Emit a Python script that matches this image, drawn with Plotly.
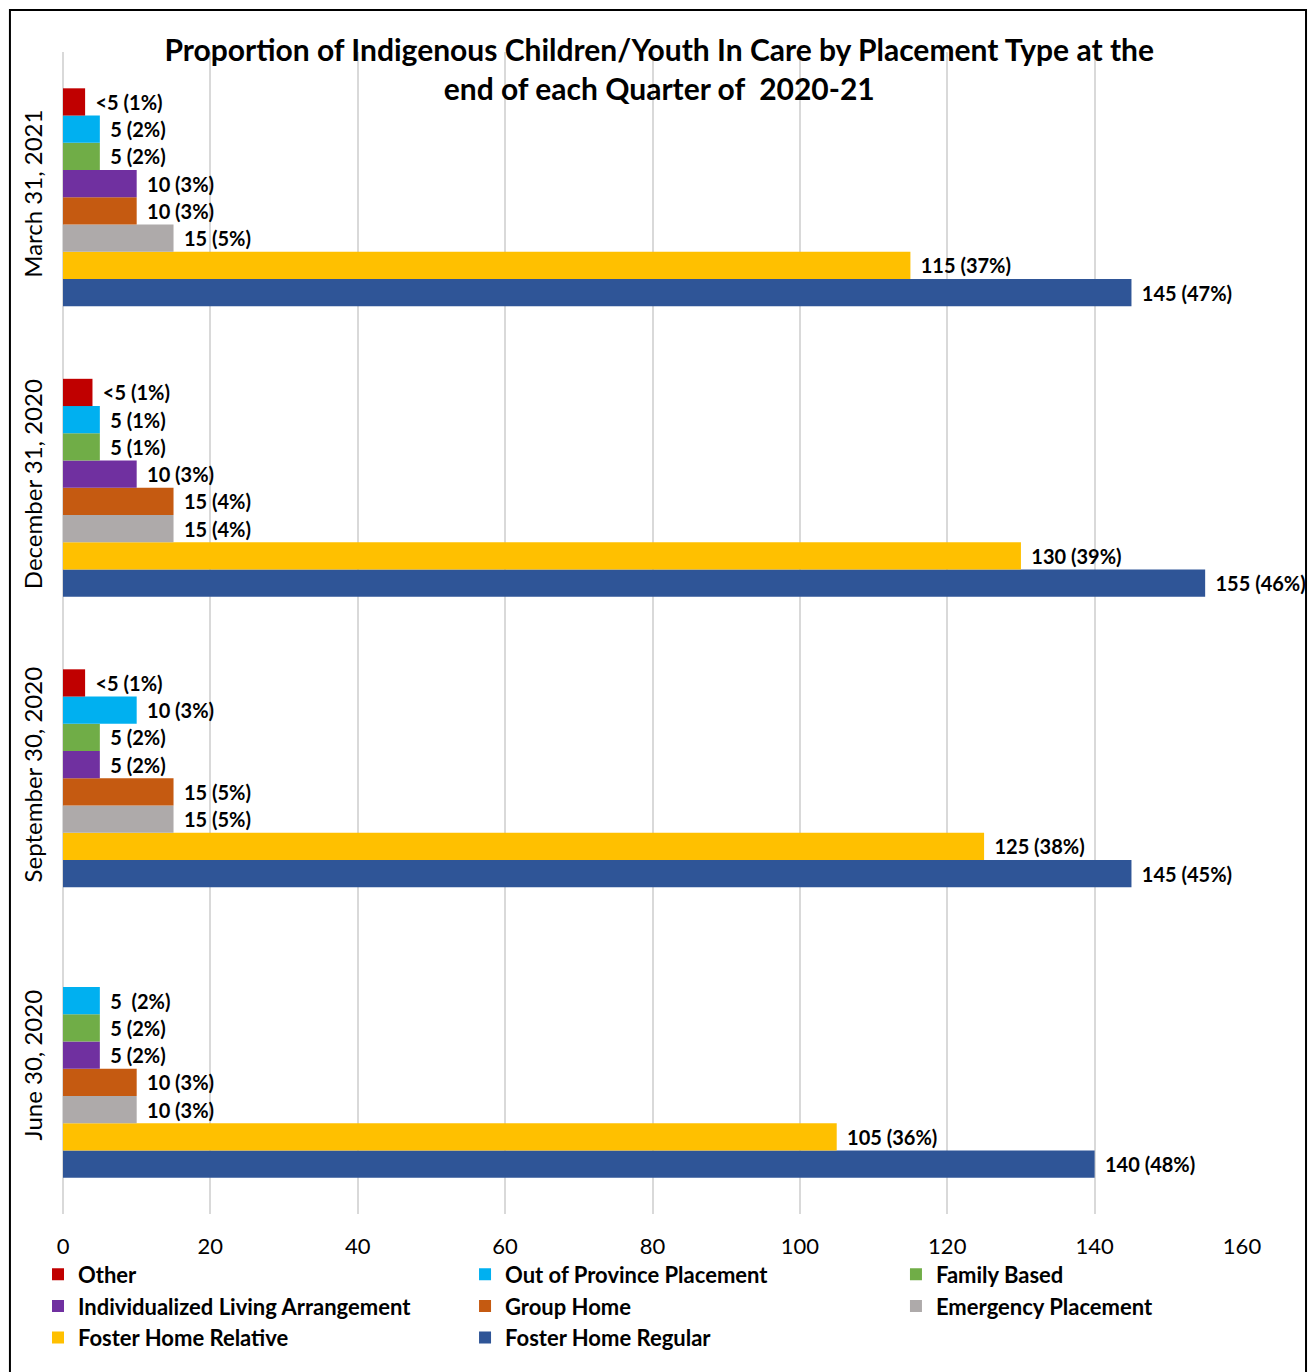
import plotly.graph_objects as go

# Quarter-end dates (bottom to top on the chart)
categories = ["June 30, 2020", "September 30, 2020", "December 31, 2020", "March 31, 2021"]

# Placement counts per quarter and their printed labels
other = [None, 3, 4, 3]
other_labels = ["", "<5 (1%)", "<5 (1%)", "<5 (1%)"]

out_of_province = [5, 10, 5, 5]
out_of_province_labels = ["5\u00a0\u00a0(2%)", "10 (3%)", "5 (1%)", "5 (2%)"]

family_based = [5, 5, 5, 5]
family_based_labels = ["5 (2%)", "5 (2%)", "5 (1%)", "5 (2%)"]

individualized = [5, 5, 10, 10]
individualized_labels = ["5 (2%)", "5 (2%)", "10 (3%)", "10 (3%)"]

group_home = [10, 15, 15, 10]
group_home_labels = ["10 (3%)", "15 (5%)", "15 (4%)", "10 (3%)"]

emergency = [10, 15, 15, 15]
emergency_labels = ["10 (3%)", "15 (5%)", "15 (4%)", "15 (5%)"]

foster_relative = [105, 125, 130, 115]
foster_relative_labels = ["105 (36%)", "125 (38%)", "130 (39%)", "115 (37%)"]

foster_regular = [140, 145, 155, 145]
foster_regular_labels = ["140 (48%)", "145 (45%)", "155 (46%)", "145 (47%)"]

x_ticks = [0, 20, 40, 60, 80, 100, 120, 140, 160]

# Drawn bottom-up within each quarter, so Foster Home Regular comes first.
# The last field picks which legend column the series is listed in.
series = [
    ("Foster Home Regular", foster_regular, foster_regular_labels, "#2F5597", "legend2"),
    ("Foster Home Relative", foster_relative, foster_relative_labels, "#FFC000", "legend"),
    ("Emergency Placement", emergency, emergency_labels, "#AEAAAA", "legend3"),
    ("Group Home", group_home, group_home_labels, "#C55A11", "legend2"),
    ("Individualized Living Arrangement", individualized, individualized_labels, "#7030A0", "legend"),
    ("Family Based", family_based, family_based_labels, "#70AD47", "legend3"),
    ("Out of Province Placement", out_of_province, out_of_province_labels, "#00B0F0", "legend2"),
    ("Other", other, other_labels, "#C00000", "legend"),
]

FONT = "Lato, 'Open Sans', sans-serif"

fig = go.Figure()
for name, vals, labels, color, legend_id in series:
    fig.add_trace(go.Bar(
        name=name,
        legend=legend_id,
        y=categories,
        x=vals,
        orientation="h",
        marker=dict(color=color, line=dict(width=0)),
        text=labels,
        texttemplate="\u00a0\u2009%{text}",
        textposition="outside",
        textfont=dict(family=FONT, size=20, color="black", weight="bold"),
        cliponaxis=False,
        constraintext="none",
        hoverinfo="x+name",
    ))


def legend_column(x):
    # Each column is its own vertical legend below the plot area
    return dict(
        orientation="v",
        traceorder="reversed",
        x=x,
        xanchor="left",
        y=-0.034,
        yanchor="top",
        font=dict(family=FONT, size=22, color="black", weight="bold"),
        itemwidth=30,
        itemclick=False,
        itemdoubleclick=False,
        bgcolor="rgba(0,0,0,0)",
    )


fig.update_layout(
    width=1308,
    height=1372,
    margin=dict(l=63, r=66, t=52, b=158),
    paper_bgcolor="white",
    plot_bgcolor="white",
    barmode="group",
    bargap=0.25,
    bargroupgap=0,
    font=dict(family=FONT, color="black"),
    title=dict(
        text="<b>Proportion of Indigenous Children/Youth In Care by Placement Type at the<br>end of each Quarter of  2020-21</b>",
        x=0.504,
        xref="container",
        xanchor="center",
        y=1 - 60.5 / 1372,
        yref="container",
        yanchor="middle",
        font=dict(family=FONT, size=30, color="black"),
    ),
    xaxis=dict(
        range=[0, 160],
        tickvals=x_ticks,
        ticktext=[str(v) for v in x_ticks],
        showgrid=True,
        gridcolor="#D9D9D9",
        gridwidth=2,
        zeroline=True,
        zerolinecolor="#D9D9D9",
        zerolinewidth=2,
        showline=False,
        ticks="",
        ticklabelstandoff=17,
        tickfont=dict(family=FONT, size=22, color="black"),
        fixedrange=True,
    ),
    yaxis=dict(
        type="category",
        categoryorder="array",
        categoryarray=categories,
        range=[-0.5, 3.5],
        showgrid=False,
        zeroline=False,
        showline=False,
        ticks="",
        tickangle=-90,
        ticklabelstandoff=15,
        tickfont=dict(family=FONT, size=24, color="black"),
        fixedrange=True,
    ),
    legend=legend_column(-0.0212),
    legend2=legend_column(0.341),
    legend3=legend_column(0.7065),
    shapes=[
        dict(
            type="rect",
            xref="paper",
            yref="paper",
            x0=-0.045,
            x1=1.0543,
            y0=-0.2,
            y1=1.0361,
            line=dict(color="black", width=2),
            fillcolor="rgba(0,0,0,0)",
            layer="below",
        )
    ],
)

fig.write_html("out.html")
